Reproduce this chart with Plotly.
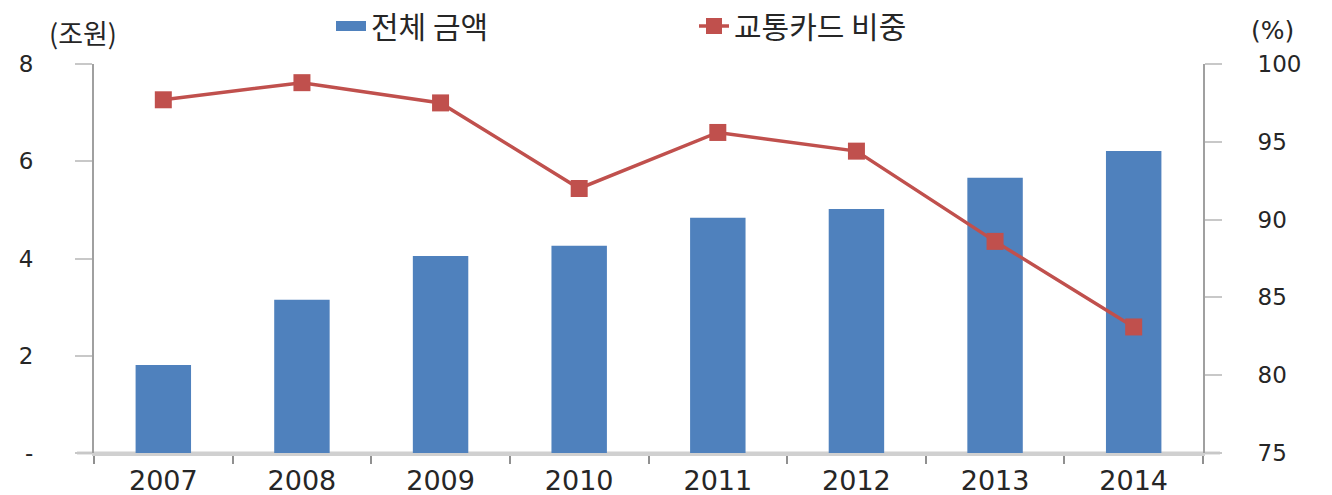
import plotly.graph_objects as go

years = ["2007", "2008", "2009", "2010", "2011", "2012", "2013", "2014"]
total_amount = [1.81, 3.15, 4.05, 4.26, 4.84, 5.02, 5.66, 6.21]
card_share = [97.7, 98.8, 97.5, 92.0, 95.6, 94.4, 88.6, 83.1]

left_ticks = [0, 2, 4, 6, 8]
left_ticktext = ["-", "2", "4", "6", "8"]
right_ticks = [75, 80, 85, 90, 95, 100]

KFONT = "Noto Sans CJK KR"
NFONT = "DejaVu Sans"
TXT = "#262626"
BLUE = "#4F81BD"
RED = "#C0504D"

# the page body adds an 8px offset; margins are set so the plot lands where the reference has it
OFF = 8
W, H = 1332, 495
L, R, T, B = 94 - OFF, 129 + OFF, 64 - OFF, 42 + OFF
PW = W - L - R
PH = H - T - B

fig = go.Figure()
fig.add_trace(go.Bar(
    x=years, y=total_amount, name="전체 금액",
    marker=dict(color=BLUE, line=dict(width=0)),
    width=0.4, yaxis="y", showlegend=False,
))
# legend-only entry drawn as a wide swatch (like the reference)
fig.add_trace(go.Scatter(
    x=[None], y=[None], name="전체 금액", mode="lines",
    line=dict(color=BLUE, width=11), yaxis="y", showlegend=True,
))
fig.add_trace(go.Scatter(
    x=years, y=card_share, name="교통카드 비중", mode="lines+markers",
    line=dict(color=RED, width=3.5),
    marker=dict(symbol="square", size=17, color=RED),
    yaxis="y2",
))

fig.update_layout(
    width=W, height=H,
    margin=dict(l=L, r=R, t=T, b=B, autoexpand=False),
    plot_bgcolor="white", paper_bgcolor="white",
    font=dict(family=KFONT, color=TXT, size=22),
    showlegend=True,
    legend=dict(
        orientation="h", xref="paper", yref="paper",
        x=(331 - 94) / PW, y=1 + (64 - 26) / PH, xanchor="left", yanchor="middle",
        font=dict(size=30, color=TXT, family=KFONT),
        entrywidth=318, itemwidth=30, bgcolor="rgba(0,0,0,0)",
        traceorder="normal",
    ),
    xaxis=dict(
        showgrid=False, showline=True, linecolor="#d0d0d0", linewidth=3,
        ticks="outside", tickson="boundaries", ticklen=8, tickcolor="#909090",
        tickwidth=1.5, ticklabelstandoff=2,
        tickfont=dict(size=27, color=TXT, family=NFONT),
    ),
    yaxis=dict(
        range=[0, 8], tickvals=left_ticks, ticktext=left_ticktext,
        showgrid=False, zeroline=False, showline=True, linecolor="#a0a0a0", linewidth=2,
        ticks="outside", ticklen=17, tickcolor="#c8c8c8", tickwidth=2,
        tickfont=dict(size=23, color=TXT, family=NFONT),
        ticklabelstandoff=37,
    ),
    yaxis2=dict(
        range=[75, 100], tickvals=right_ticks, overlaying="y", side="right",
        showgrid=False, zeroline=False, showline=True, linecolor="#a0a0a0", linewidth=2,
        ticks="outside", ticklen=17, tickcolor="#c8c8c8", tickwidth=2,
        tickfont=dict(size=23, color=TXT, family=NFONT),
        ticklabelstandoff=31,
    ),
)

# x-axis baseline extends slightly beyond both value axes, as in the reference
fig.add_shape(type="line", xref="paper", yref="paper",
              x0=-17 / PW, x1=1 + 17 / PW, y0=0, y1=0,
              line=dict(color="#d0d0d0", width=3), layer="below")

fig.add_annotation(text="(조원)", xref="paper", yref="paper", x=(83 - 94) / PW,
                   y=1 + (64 - 33) / PH, xanchor="center", yanchor="middle",
                   showarrow=False, font=dict(size=27, color=TXT, family=KFONT))
fig.add_annotation(text="(%)", xref="paper", yref="paper", x=(1272 - 94) / PW,
                   y=1 + (64 - 30) / PH, xanchor="center", yanchor="middle",
                   showarrow=False, font=dict(size=25, color=TXT, family=NFONT))

fig.write_html("out.html")
